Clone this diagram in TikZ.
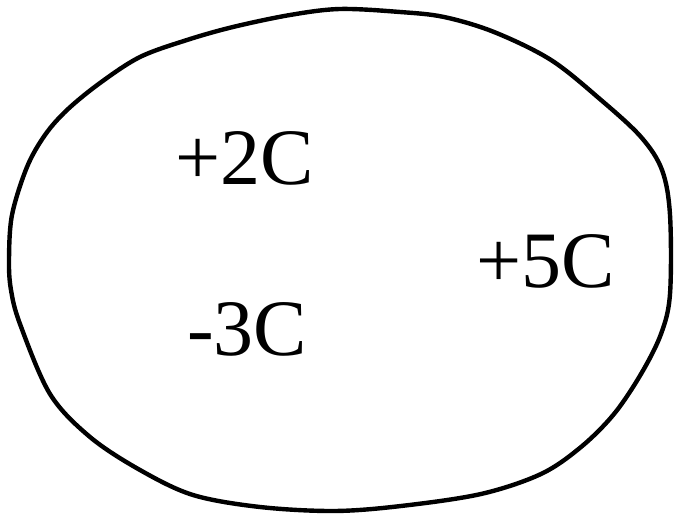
\documentclass[tikz,border=0pt]{standalone}
\usepackage{fontspec}
\setmainfont{Liberation Serif}
\usetikzlibrary{positioning}
\tikzset{charge/.style={font=\fontsize{40}{46}\selectfont, inner sep=0pt}}

\begin{document}
\begin{tikzpicture}[x=0.5pt, y=-0.5pt]
        \useasboundingbox (0,0) rectangle (674,517);
        \draw[black, line width=2.2pt] plot[smooth cycle, tension=0.55] coordinates {
          (9,260) (12,215) (27,167) (45,135) (67,110) (100,83) (140,57) (187,40)
          (233,27) (290,15) (340,9) (400,12) (444,17) (494,32) (551,60) (601,100)
          (641,137) (662,170) (670,215) (670,294) (661,334) (641,374) (614,414)
          (581,447) (541,474) (481,494) (401,506) (334,511) (260,507) (193,495)
          (140,470) (90,437) (50,394) (20,324) (11,290)};
        \node[charge] (q1) at (245,158) {+2C};
        \node[charge] (q2) at (546,261) {+5C};
        \node[charge] (q3) at (247,329) {-3C};
      \end{tikzpicture}
\end{document}
